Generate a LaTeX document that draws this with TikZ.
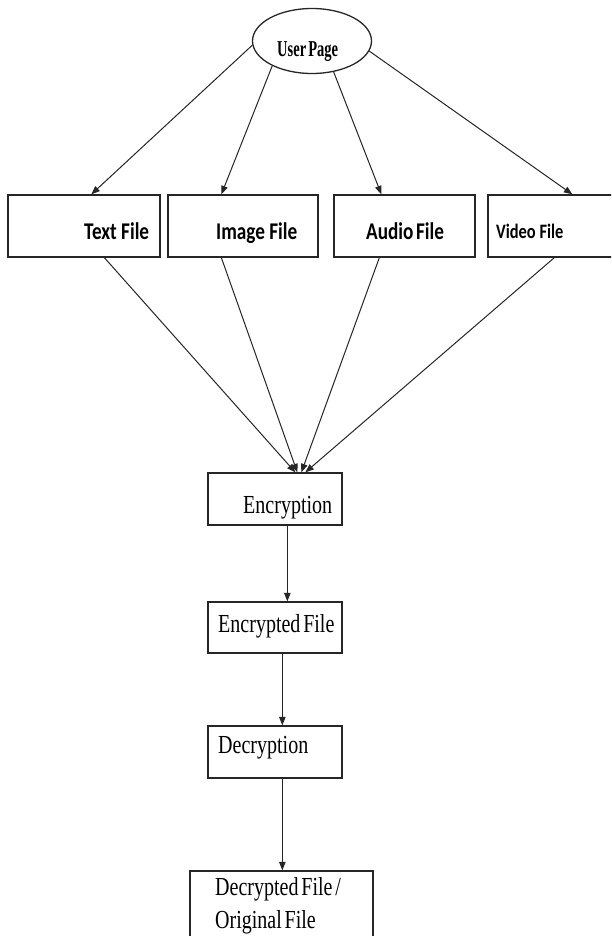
\documentclass[tikz,border=0pt]{standalone}
\usepackage{fontspec}
\setmainfont{Liberation Serif}
\newfontfamily\labelsans{Carlito}
\usetikzlibrary{shapes.geometric,arrows.meta,calc}
% horizontally condensed label text
\newcommand\narrowtext[2]{\scalebox{#1}[1]{#2}}
% the same, with tight word spacing
\newcommand\tighttext[2]{\scalebox{#1}[1]{\spaceskip=0.14em\relax #2}}
\begin{document}
\begin{tikzpicture}[x=1pt,y=-1pt,
  box/.style={draw=black!85, line width=1.3pt, inner sep=0pt},
  oval/.style={ellipse, draw=black!85, line width=1.3pt, inner sep=0pt},
  arr/.style={draw=black!85, line width=1pt, -{Triangle[length=8.5pt,width=6.5pt]}},
  sanslbl/.style={inner sep=0pt, anchor=base west, font=\labelsans\bfseries\fontsize{24}{28}\selectfont},
  seriflbl/.style={inner sep=0pt, anchor=base west, font=\fontsize{26}{30}\selectfont},
]
\useasboundingbox (0,0) rectangle (611,936);
\fill[white] (0,0) rectangle (611,936);
\clip (0,0) rectangle (611,936);

% start page
\node[oval, minimum width=119pt, minimum height=65pt] (user) at (312,41) {};
\node[inner sep=0pt, anchor=base west, font=\bfseries\fontsize{22.7}{26}\selectfont] (userl) at (277,57) {\tighttext{0.64}{User Page}};

% file type boxes
\node[box, minimum width=152pt, minimum height=62pt] (txt) at (84,226) {};
\node[box, minimum width=150pt, minimum height=62pt] (img) at (243,226) {};
\node[box, minimum width=141pt, minimum height=62pt] (aud) at (404.5,226) {};
\node[box, minimum width=150pt, minimum height=62pt] (vid) at (563,226) {};
\node[sanslbl] (txtl) at (84,239) {\narrowtext{0.8}{Text File}};
\node[sanslbl] (imgl) at (216,239) {\narrowtext{0.8}{Image File}};
\node[sanslbl] (audl) at (366,239) {\tighttext{0.8}{Audio File}};
\node[sanslbl, font=\labelsans\bfseries\fontsize{20.5}{24}\selectfont] (vidl) at (496,238) {\narrowtext{0.8}{Video File}};

% processing chain
\node[box, minimum width=134pt, minimum height=52pt] (enc) at (275,499) {};
\node[box, minimum width=134pt, minimum height=51pt] (encf) at (275,627.5) {};
\node[box, minimum width=134pt, minimum height=52pt] (dec) at (275,752) {};
\node[box, minimum width=183pt, minimum height=80pt] (decf) at (281.5,911) {};
\node[seriflbl] (encl) at (243,513) {\tighttext{0.77}{Encryption}};
\node[seriflbl] (encfl) at (218,632) {\tighttext{0.77}{Encrypted File}};
\node[seriflbl] (decl) at (218,753) {\tighttext{0.77}{Decryption}};
\node[seriflbl] (decfl) at (215,895) {\tighttext{0.77}{Decrypted File /}};
\node[seriflbl] (origl) at (215,928) {\tighttext{0.77}{Original File}};

% user page to file types
\draw[arr] (user.184) -- ($(txt.north west)+(84,0)$);
\draw[arr] (user.212) -- ($(img.north west)+(54,0)$);
\draw[arr] (user.305) -- ($(aud.north west)+(48,0)$);
\draw[arr] (user.350) -- ($(vid.north west)+(85,0)$);

% file types to encryption
\draw[arr] ($(txt.south west)+(97,0)$) -- ($(enc.north west)+(88,0)$);
\draw[arr] ($(img.south west)+(54,0)$) -- ($(enc.north west)+(90,0)$);
\draw[arr] ($(aud.south west)+(46,0)$) -- ($(enc.north west)+(94,0)$);
\draw[arr] ($(vid.south west)+(67,0)$) -- ($(enc.north west)+(98,0)$);

% chain
\draw[arr] ($(enc.south west)+(80,0)$) -- ($(encf.north west)+(80,0)$);
\draw[arr] ($(encf.south west)+(75,0)$) -- ($(dec.north west)+(75,0)$);
\draw[arr] ($(dec.south west)+(75,0)$) -- ($(decf.north west)+(93,0)$);
\end{tikzpicture}
\end{document}
